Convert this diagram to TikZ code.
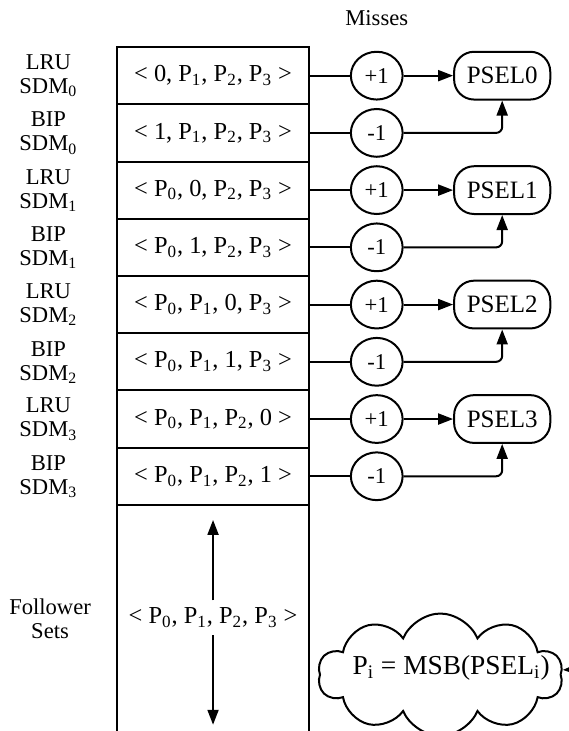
\documentclass[tikz,border=0pt]{standalone}
\usepackage{fontspec}
\setmainfont{Liberation Serif}
\usetikzlibrary{positioning,arrows.meta,shapes.geometric,shapes.symbols}

\newcommand{\pidx}[1]{P\textsubscript{#1}}

\begin{document}
\begin{tikzpicture}[line width=1pt,
    font=\fontsize{11.3}{12}\selectfont,
    setrow/.style={draw,minimum width=3.37cm,minimum height=1.006cm,inner sep=0pt,outer sep=0pt,
        font=\fontsize{12.2}{13}\selectfont},
    tag/.style={align=center,inner sep=0pt},
    ctr/.style={draw,ellipse,minimum width=0.91cm,minimum height=0.84cm,inner sep=0pt},
    psel/.style={draw,rounded corners=10pt,minimum width=1.69cm,minimum height=0.84cm,inner sep=0pt,
        font=\fontsize{12.5}{13}\selectfont},
    arr/.style={-{Triangle[length=7.5pt,width=5.5pt]}}]

    \useasboundingbox (0,0) rectangle (10,-12.85);
    \clip (0,0) rectangle (10,-12.85);

    % leader sets
    \node[setrow] (lru0) at (3.745,-1.33) {< 0, \pidx{1}, \pidx{2}, \pidx{3} >};
    \node[setrow,below=0pt of lru0] (bip0) {< 1, \pidx{1}, \pidx{2}, \pidx{3} >};
    \node[setrow,below=0pt of bip0] (lru1) {< \pidx{0}, 0, \pidx{2}, \pidx{3} >};
    \node[setrow,below=0pt of lru1] (bip1) {< \pidx{0}, 1, \pidx{2}, \pidx{3} >};
    \node[setrow,below=0pt of bip1] (lru2) {< \pidx{0}, \pidx{1}, 0, \pidx{3} >};
    \node[setrow,below=0pt of lru2] (bip2) {< \pidx{0}, \pidx{1}, 1, \pidx{3} >};
    \node[setrow,below=0pt of bip2] (lru3) {< \pidx{0}, \pidx{1}, \pidx{2}, 0 >};
    \node[setrow,below=0pt of lru3] (bip3) {< \pidx{0}, \pidx{1}, \pidx{2}, 1 >};

    % follower sets, open at the bottom
    \draw (bip3.south west) -- ++(0,-4.2);
    \draw (bip3.south east) -- ++(0,-4.2);
    \node[font=\fontsize{12.2}{13}\selectfont] (fol) at (3.745,-10.86) {< \pidx{0}, \pidx{1}, \pidx{2}, \pidx{3} >};
    \coordinate (folup) at (3.745,-9.14);
    \coordinate (foldn) at (3.745,-12.74);
    \draw[arr] (fol) -- (folup);
    \draw[arr] (fol) -- (foldn);

    % policy labels
    \node[tag] (t0) at (0.85,-1.33) {LRU\\SDM\textsubscript{0}};
    \node[tag] (t1) at (0.85,-2.34) {BIP\\SDM\textsubscript{0}};
    \node[tag] (t2) at (0.85,-3.35) {LRU\\SDM\textsubscript{1}};
    \node[tag] (t3) at (0.85,-4.35) {BIP\\SDM\textsubscript{1}};
    \node[tag] (t4) at (0.85,-5.36) {LRU\\SDM\textsubscript{2}};
    \node[tag] (t5) at (0.85,-6.37) {BIP\\SDM\textsubscript{2}};
    \node[tag] (t6) at (0.85,-7.37) {LRU\\SDM\textsubscript{3}};
    \node[tag] (t7) at (0.85,-8.38) {BIP\\SDM\textsubscript{3}};
    \node[tag] (t8) at (0.88,-10.88) {Follower\\Sets};

    % miss counters
    \node[ctr,right=0.72cm of lru0] (inc0) {+1};
    \node[ctr,right=0.72cm of bip0] (dec0) {-1};
    \node[ctr,right=0.72cm of lru1] (inc1) {+1};
    \node[ctr,right=0.72cm of bip1] (dec1) {-1};
    \node[ctr,right=0.72cm of lru2] (inc2) {+1};
    \node[ctr,right=0.72cm of bip2] (dec2) {-1};
    \node[ctr,right=0.72cm of lru3] (inc3) {+1};
    \node[ctr,right=0.72cm of bip3] (dec3) {-1};
    \node[above=0.3cm of inc0] (misses) {Misses};

    \node[psel,right=0.87cm of inc0] (psel0) {PSEL0};
    \node[psel,right=0.87cm of inc1] (psel1) {PSEL1};
    \node[psel,right=0.87cm of inc2] (psel2) {PSEL2};
    \node[psel,right=0.87cm of inc3] (psel3) {PSEL3};

    \draw (lru0) -- (inc0);
    \draw (bip0) -- (dec0);
    \draw (lru1) -- (inc1);
    \draw (bip1) -- (dec1);
    \draw (lru2) -- (inc2);
    \draw (bip2) -- (dec2);
    \draw (lru3) -- (inc3);
    \draw (bip3) -- (dec3);

    \draw[arr] (inc0) -- (psel0);
    \draw[arr] (inc1) -- (psel1);
    \draw[arr] (inc2) -- (psel2);
    \draw[arr] (inc3) -- (psel3);
    \draw[arr,rounded corners=3pt] (dec0) -| (psel0);
    \draw[arr,rounded corners=3pt] (dec1) -| (psel1);
    \draw[arr,rounded corners=3pt] (dec2) -| (psel2);
    \draw[arr,rounded corners=3pt] (dec3) -| (psel3);

    % insertion position from the counter
    \node[draw,cloud,cloud puffs=10,cloud puff arc=135,cloud ignores aspect,
        minimum width=4.3cm,minimum height=2.15cm,inner sep=0pt] (msb) at (7.74,-11.86) {};
    \node[font=\fontsize{13.7}{14}\selectfont] (msbtxt) at (7.93,-11.74) {\pidx{i} = MSB(PSEL\textsubscript{i})};
    \coordinate (msbsrc) at (10.8,-11.74);
    \draw[arr] (msbsrc) -- (msb);
\end{tikzpicture}
\end{document}
